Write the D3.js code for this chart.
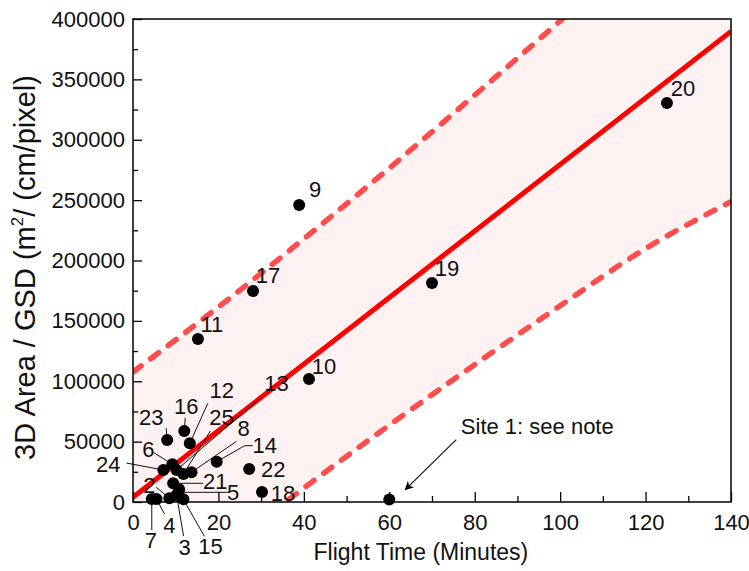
<!DOCTYPE html>
<html>
<head>
<meta charset="utf-8">
<script src="https://cdn.jsdelivr.net/npm/d3@7"></script>
<style>
  html, body { margin: 0; padding: 0; background: #fff; }
  text { font-family: "Liberation Sans", Arial, Helvetica, sans-serif; }
</style>
</head>
<body>
<svg id="chart" width="749" height="571"></svg>
<script>
// ---------------- data ----------------
const siteIds    = [1, 2, 3, 4, 5, 6, 7, 8, 9, 10, 11, 12, 13, 14, 15, 16, 17, 18, 19, 20, 21, 22, 23, 24, 25];
const flightTime = [60, 8.5, 10.2, 5.5, 10.8, 9.2, 4.4, 13.7, 38.9, 41.2, 15.2, 13.3, 10.2, 19.6, 11.8, 12.0, 28.1, 30.2, 70.0, 125.0, 9.4, 27.2, 8.0, 7.1, 11.8];
const areaPerGsd = [2000, 3100, 5800, 2500, 10500, 31200, 2500, 24600, 246000, 101900, 135000, 48600, 26500, 33400, 2200, 58800, 174700, 8300, 181400, 330400, 15500, 27300, 51300, 26500, 23200];

// regression fit and prediction band
const fitX      = [0, 140];
const fitY      = [4000, 389700];
const bandX     = [0, 20, 40, 60, 80, 100, 120, 140];
const bandUpper = [107700, 161500, 218000, 276500, 337000, 398500, 461300, 532700];
const bandLower = [-99700, -42500, 11600, 63600, 113800, 162500, 209900, 248700];

const xTicks = [0, 20, 40, 60, 80, 100, 120, 140];
const yTicks = [0, 50000, 100000, 150000, 200000, 250000, 300000, 350000, 400000];
const xTitle = "Flight Time (Minutes)";
const noteText = "Site 1: see note";

// label layout (pixel offsets from each point; leader polyline offsets)
const labelLayout = {
  2:  {dx: -20, dy: -13, lead: [[-13, -11], [0, 0]]},
  3:  {dx: 8,   dy: 52,  lead: [[7, 41], [0, 0]]},
  4:  {dx: 13,  dy: 26,  lead: [[8, 15], [0, 0]]},
  5:  {dx: 54,  dy: 3,   lead: [[50, 3], [3, 3]]},
  6:  {dx: -24, dy: -15, lead: [[-19, -12], [0, 0]]},
  7:  {dx: -1,  dy: 41,  lead: [[0, 31], [0, 0]]},
  8:  {dx: 52,  dy: -44, lead: [[45, -31], [0, 0]]},
  9:  {dx: 16,  dy: -16},
  10: {dx: 15,  dy: -13},
  11: {dx: 14,  dy: -15},
  12: {dx: 32,  dy: -53, lead: [[18, -40], [0, 0]]},
  13: {dx: 100, dy: -87, lead: [[85, -73], [0, 0]]},
  14: {dx: 48,  dy: -17, lead: [[36, -16], [28, -16], [0, 0]]},
  15: {dx: 27,  dy: 47,  lead: [[21, 37], [0, 0]]},
  16: {dx: 2,   dy: -25, lead: [[1, -13], [0, 0]]},
  17: {dx: 15,  dy: -16},
  18: {dx: 21,  dy: 1},
  19: {dx: 15,  dy: -15},
  20: {dx: 16,  dy: -15},
  21: {dx: 42,  dy: -2,  lead: [[30, 0], [0, 0]]},
  22: {dx: 24,  dy: 0},
  23: {dx: -16, dy: -23, lead: [[-1, -12], [0, 0]]},
  24: {dx: -55, dy: -6,  lead: [[-37, -7], [0, 0]]},
  25: {dx: 38,  dy: -57, lead: [[27, -43], [0, 0]]}
};

// ---------------- chart ----------------
const svg = d3.select("#chart");
const margin = {left: 133, right: 18, top: 19, bottom: 69};
const W = 749, H = 571;
const x = d3.scaleLinear().domain([0, 140]).range([margin.left, W - margin.right]);
const y = d3.scaleLinear().domain([0, 400000]).range([H - margin.bottom, margin.top]);

svg.append("defs").append("clipPath").attr("id", "plotClip")
  .append("rect")
  .attr("x", x(0)).attr("y", y(400000))
  .attr("width", x(140) - x(0)).attr("height", y(0) - y(400000));

svg.select("defs").append("marker")
  .attr("id", "arrow").attr("viewBox", "0 0 10 10")
  .attr("refX", 9).attr("refY", 5)
  .attr("markerWidth", 13).attr("markerHeight", 9)
  .attr("markerUnits", "userSpaceOnUse")
  .attr("orient", "auto")
  .append("path").attr("d", "M0,0 L10,5 L0,10 L3,5 Z").attr("fill", "#000");

const plot = svg.append("g").attr("clip-path", "url(#plotClip)");

const band = bandX.map((v, i) => ({x: v, lo: bandLower[i], hi: bandUpper[i]}));

plot.append("path")
  .datum(band)
  .attr("fill", "#fef1f1")
  .attr("d", d3.area().curve(d3.curveMonotoneX)
    .x(d => x(d.x)).y0(d => y(d.lo)).y1(d => y(d.hi)));

const dashLine = (key) => d3.line().curve(d3.curveMonotoneX).x(d => x(d.x)).y(d => y(d[key]));
["hi", "lo"].forEach(k => {
  plot.append("path")
    .datum(band)
    .attr("fill", "none")
    .attr("stroke", "#ff4d4d")
    .attr("stroke-width", 5.5)
    .attr("stroke-linecap", "round")
    .attr("stroke-dasharray", "10,12")
    .attr("d", dashLine(k));
});

plot.append("path")
  .datum(fitX.map((v, i) => ({x: v, y: fitY[i]})))
  .attr("fill", "none")
  .attr("stroke", "#ff0000")
  .attr("stroke-width", 5)
  .attr("d", d3.line().x(d => x(d.x)).y(d => y(d.y)));

// axes (ticks inward)
const axG = svg.append("g");
const xMinor = d3.range(10, 140, 20);
const yMinor = d3.range(25000, 400000, 50000);

axG.append("g").attr("class", "xax").attr("transform", `translate(0,${y(0)})`)
  .call(d3.axisBottom(x).tickValues(xTicks).tickSize(-10).tickPadding(12).tickFormat(d3.format("d")));
axG.append("g").attr("transform", `translate(0,${y(0)})`)
  .call(d3.axisBottom(x).tickValues(xMinor).tickSize(-6).tickFormat(""))
  .call(g => g.select(".domain").remove());

axG.append("g").attr("class", "yax").attr("transform", `translate(${x(0)},0)`)
  .call(d3.axisLeft(y).tickValues(yTicks).tickSize(-9).tickPadding(8).tickFormat(d3.format("d")));
axG.append("g").attr("transform", `translate(${x(0)},0)`)
  .call(d3.axisLeft(y).tickValues(yMinor).tickSize(-5).tickFormat(""))
  .call(g => g.select(".domain").remove());

axG.selectAll(".tick line").attr("stroke", "#000").attr("stroke-width", 1.3);
axG.selectAll(".domain").remove();
axG.selectAll(".tick text").attr("fill", "#111").style("font-size", "22px");

// frame
svg.append("rect")
  .attr("x", x(0)).attr("y", y(400000))
  .attr("width", x(140) - x(0)).attr("height", y(0) - y(400000))
  .attr("fill", "none").attr("stroke", "#111").attr("stroke-width", 1.6);

// axis titles
svg.append("text")
  .attr("x", x(67.4)).attr("y", 560)
  .attr("text-anchor", "middle").style("font-size", "23px").attr("fill", "#111")
  .text(xTitle);

const yt = svg.append("text")
  .attr("transform", `translate(35,${y(200000) + 7}) rotate(-90)`)
  .attr("text-anchor", "middle").style("font-size", "29px").attr("fill", "#111");
yt.append("tspan").text("3D Area / GSD (m");
yt.append("tspan").attr("dy", -12).style("font-size", "17px").text("2");
yt.append("tspan").attr("dy", 12).text("/ (cm/pixel)");

// points data
const pts = siteIds.map((id, i) => ({id, px: x(flightTime[i]), py: y(areaPerGsd[i])}));

// leader lines
const lg = svg.append("g");
pts.forEach(p => {
  const L = labelLayout[p.id];
  if (L && L.lead) {
    lg.append("path")
      .attr("d", d3.line()(L.lead.map(o => [p.px + o[0], p.py + o[1]])))
      .attr("fill", "none").attr("stroke", "#111").attr("stroke-width", 1);
  }
});

// points
svg.append("g").selectAll("circle").data(pts).join("circle")
  .attr("cx", d => d.px).attr("cy", d => d.py).attr("r", 6)
  .attr("fill", "#000");

// labels
svg.append("g").selectAll("text").data(pts.filter(d => labelLayout[d.id])).join("text")
  .attr("x", d => d.px + labelLayout[d.id].dx)
  .attr("y", d => d.py + labelLayout[d.id].dy)
  .attr("text-anchor", "middle").attr("dy", "0.36em")
  .style("font-size", "22px").attr("fill", "#111")
  .text(d => d.id);

// Site 1 note
const s1 = pts[0];
svg.append("line")
  .attr("x1", s1.px + 67).attr("y1", s1.py - 60)
  .attr("x2", s1.px + 16).attr("y2", s1.py - 10)
  .attr("stroke", "#111").attr("stroke-width", 1.2)
  .attr("marker-end", "url(#arrow)");
svg.append("text")
  .attr("x", s1.px + 148).attr("y", s1.py - 74)
  .attr("text-anchor", "middle").attr("dy", "0.36em")
  .style("font-size", "22px").attr("fill", "#111")
  .text(noteText);
</script>
</body>
</html>
